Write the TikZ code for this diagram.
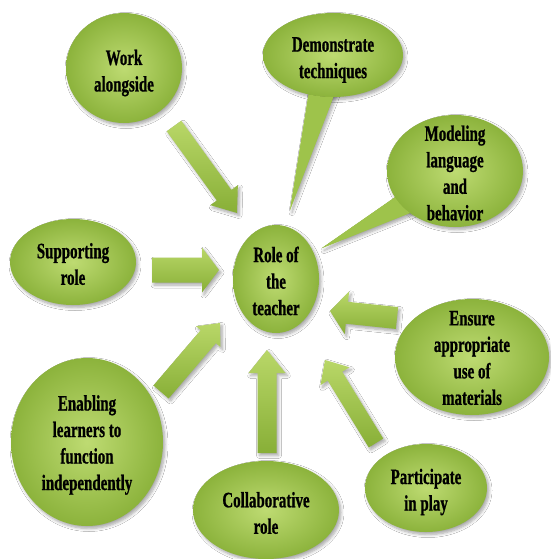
\documentclass[tikz,border=0pt]{standalone}
\usepackage{fontspec}
\newfontfamily\labelfont{Liberation Serif}[FakeStretch=0.68,FakeBold=0.8]
\usetikzlibrary{calc,shapes.geometric,shadows.blur}

\definecolor{bubbleIn}{HTML}{BEDB72}
\definecolor{bubbleOut}{HTML}{8CB33C}
\definecolor{tailGreen}{HTML}{9EC34B}
\definecolor{arrowTop}{HTML}{B9D768}
\definecolor{arrowBot}{HTML}{88AF37}

\tikzset{
  softshadow/.style={blur shadow={shadow xshift=2pt, shadow yshift=-2.5pt,
      shadow blur radius=3pt, shadow blur steps=6, shadow opacity=35}},
  bubble/.style={ellipse, inner sep=0pt,
      inner color=bubbleIn, outer color=bubbleOut, softshadow},
  bubbletext/.style={align=center, inner sep=0pt,
      font=\labelfont\bfseries\fontsize{22}{26.5}\selectfont},
  tailfill/.style={fill=tailGreen},
  blockfill/.style={top color=arrowTop, bottom color=arrowBot, softshadow},
}

% block arrow from #1 to #2: half shaft width #3, half head width #4, head length #5
\newcommand\blockarrow[5]{%
  \coordinate (ba-base) at ($(#2)!#5!(#1)$);
  \path[blockfill]
    ($(#1)!#3!90:(#2)$) -- ($(ba-base)!#3!-90:(#1)$) -- ($(ba-base)!#4!-90:(#1)$)
    -- (#2) -- ($(ba-base)!#4!90:(#1)$) -- ($(ba-base)!#3!90:(#1)$)
    -- ($(#1)!#3!-90:(#2)$) -- cycle;
}

\begin{document}
\begin{tikzpicture}[x=1pt, y=-1pt]
  \fill[white] (0,0) rectangle (550,559);
  \useasboundingbox (0,0) rectangle (550,559);

  % callout tails (drawn under their bubbles)
  \coordinate (demoL) at (310,85);
  \coordinate (demoR) at (338,85);
  \coordinate (demoTip) at (290,210);
  \coordinate (modL) at (404,191);
  \coordinate (modR) at (420,209);
  \coordinate (modTip) at (322,248);
  \fill[tailfill, softshadow] (demoL) -- (demoTip) -- (demoR) -- cycle;
  \fill[tailfill, softshadow] (modL) -- (modTip) -- (modR) -- cycle;

  % bubbles
  \node[bubble, minimum width=86pt, minimum height=108pt,
        label={[bubbletext, yshift=-2pt]center:{Role of\\the\\teacher}}] (role) at (276,279) {};
  \node[bubble, minimum width=116pt, minimum height=110pt,
        label={[bubbletext, yshift=-5pt]center:{Work\\alongside}}] (work) at (124,68) {};
  \node[bubble, minimum width=140pt, minimum height=84pt,
        label={[bubbletext, yshift=-5pt]center:{Demonstrate\\techniques}}] (demo) at (333,55) {};
  \node[bubble, minimum width=136pt, minimum height=112pt,
        label={[bubbletext, yshift=-2pt]center:{Modeling\\language\\and\\behavior}}] (model) at (455,171) {};
  \node[bubble, minimum width=126pt, minimum height=86pt,
        label={[bubbletext, yshift=-2pt]center:{Supporting\\role}}] (support) at (73,262) {};
  \node[bubble, minimum width=152pt, minimum height=168pt,
        label={[bubbletext, yshift=-3pt]center:{Enabling\\learners to\\function\\independently}}] (enable) at (87,442) {};
  \node[bubble, minimum width=146pt, minimum height=98pt,
        label={[bubbletext, yshift=-3pt]center:{Collaborative\\role}}] (collab) at (266,510) {};
  \node[bubble, minimum width=154pt, minimum height=116pt,
        label={[bubbletext, yshift=-1pt]center:{Ensure\\appropriate\\use of\\materials}}] (ensure) at (472,357) {};
  \node[bubble, minimum width=122pt, minimum height=88pt,
        label={[bubbletext, yshift=-4pt]center:{Participate\\in play}}] (partic) at (426,488) {};

  % tails again, outside their bubbles, over the bubble shadows
  \begin{scope}[even odd rule]
    \clip (0,0) rectangle (550,559) (333,55) ellipse (70 and 42);
    \fill[tailfill] (demoL) -- (demoTip) -- (demoR) -- cycle;
  \end{scope}
  \begin{scope}[even odd rule]
    \clip (0,0) rectangle (550,559) (455,171) ellipse (68 and 56);
    \fill[tailfill] (modL) -- (modTip) -- (modR) -- cycle;
  \end{scope}

  % block arrows pointing at the centre
  \coordinate (a1s) at (174,126); \coordinate (a1e) at (237,213);
  \coordinate (a2s) at (152,270); \coordinate (a2e) at (219,270);
  \coordinate (a3s) at (161,392); \coordinate (a3e) at (220,323);
  \coordinate (a4s) at (267,453); \coordinate (a4e) at (267,350);
  \coordinate (a5s) at (376,443); \coordinate (a5e) at (325,360);
  \coordinate (a6s) at (397,318); \coordinate (a6e) at (330,311);
  \blockarrow{a1s}{a1e}{9pt}{17pt}{22pt}
  \blockarrow{a2s}{a2e}{12.5pt}{22.5pt}{17pt}
  \blockarrow{a3s}{a3e}{10pt}{16pt}{18pt}
  \blockarrow{a4s}{a4e}{9.5pt}{18.5pt}{23pt}
  \blockarrow{a5s}{a5e}{8.5pt}{17pt}{19pt}
  \blockarrow{a6s}{a6e}{11pt}{21.5pt}{17pt}
\end{tikzpicture}
\end{document}
